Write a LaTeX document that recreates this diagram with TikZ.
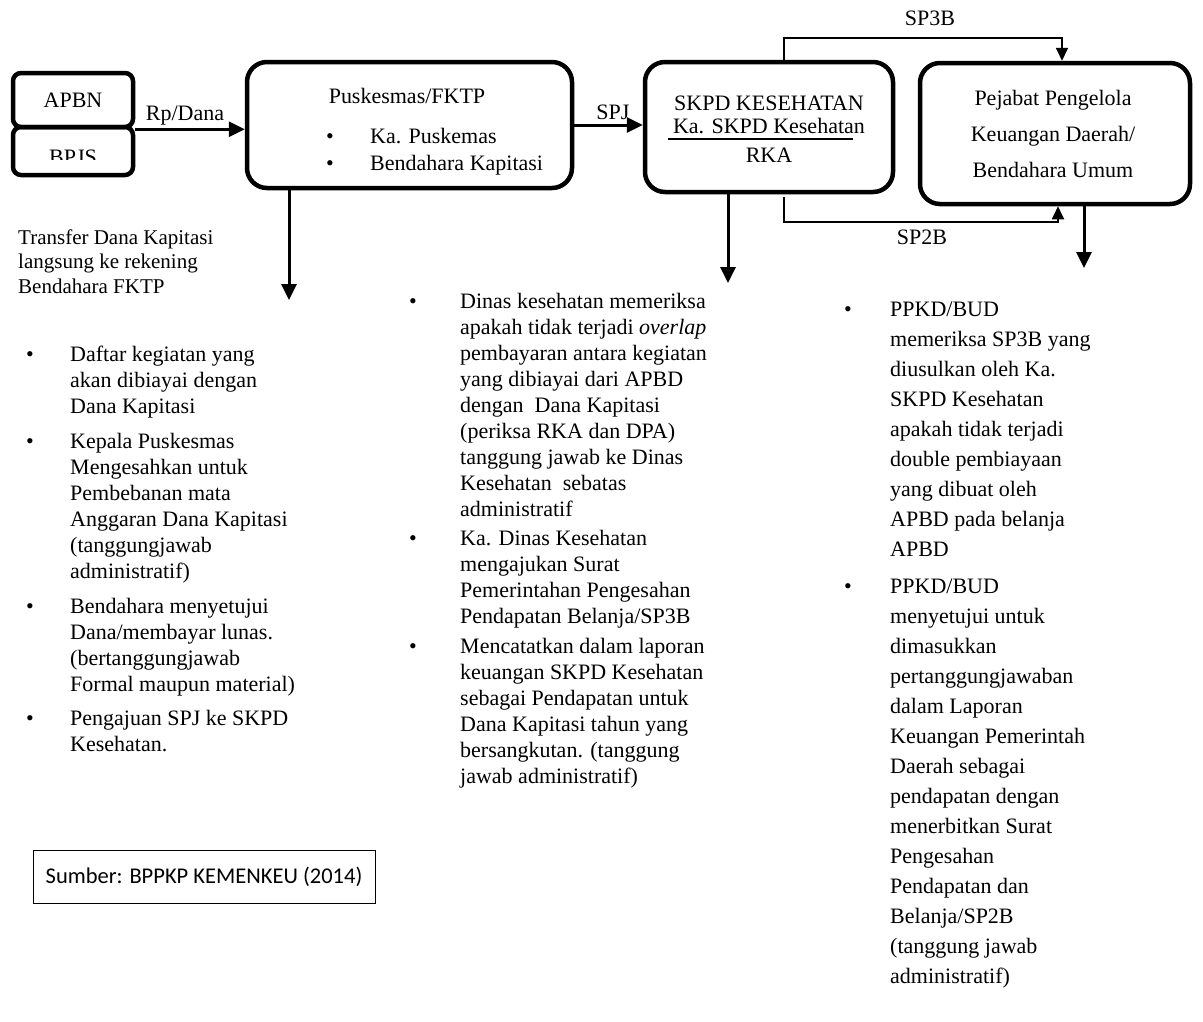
\documentclass[tikz,border=0pt]{standalone}
\usepackage{fontspec}
\setmainfont{Liberation Serif}
\newfontfamily\sumberfont{Carlito}
\usetikzlibrary{arrows.meta}

\begin{document}
\begin{tikzpicture}
[x=1pt,y=-1pt,
  box/.style={draw=black,line width=4.5pt,rounded corners=20pt,inner sep=0pt},
  smallbox/.style={box,rounded corners=8pt,minimum width=120pt},
  arr/.style={line width=3pt,-{Triangle[length=16pt,width=15pt]}},
  thinarr/.style={line width=1.8pt,-{Triangle[length=13pt,width=12pt]}},
  txt/.style={inner sep=0pt,font=\fontsize{22}{26}\selectfont},
  lbl/.style={txt,anchor=base}]

\useasboundingbox (0,0) rectangle (1203,1021);

% sources
\node[smallbox,minimum height=54pt,font=\fontsize{22}{26}\selectfont] (apbn) at (73,100) {APBN};
\node[smallbox,minimum height=48pt] (bpjs) at (73,151) {};
\begin{scope}
  \clip (15,129) rectangle (131,159);
  \node[lbl] (bpjstext) at (73,164) {BPJS};
\end{scope}

% main boxes
\node[box,minimum width=325pt,minimum height=126pt] (puskesmas) at (409.5,125) {};
\node[box,minimum width=248pt,minimum height=130pt] (skpd) at (769,127) {};
\node[box,minimum width=270pt,minimum height=141pt] (ppkd) at (1055,133.5) {};

\node[lbl] (puskesmastitle) at (407,103) {Puskesmas/FKTP};
\node[txt,anchor=base west] (puskesmaslist) at (326,143) {\begin{tabular}[t]{@{}p{44pt}@{}l@{}}
\textbullet & Ka. Puskemas\\[1pt]
\textbullet & Bendahara Kapitasi
\end{tabular}};

\node[lbl] (skpdtitle) at (769,110) {SKPD KESEHATAN};
\node[lbl] (skpdkepala) at (769,133) {Ka. SKPD Kesehatan};
\node[lbl] (rka) at (769,162) {RKA};
\draw[line width=1.5pt] (668,139) -- (853,139);

\node[lbl] (pejabat) at (1053,105) {Pejabat Pengelola};
\node[lbl] (keuangan) at (1053,141) {Keuangan Daerah/};
\node[lbl] (bendahara) at (1053,177) {Bendahara Umum};

% flows
\draw[arr] (apbn.south east) -- (apbn.south east -| puskesmas.west);
\node[lbl] (rpdana) at (185,120) {Rp/Dana};
\draw[arr] (puskesmas.east) -- (puskesmas.east -| skpd.west);
\node[lbl] (spj) at (613,119) {SPJ};

\coordinate (sp3bl) at (784,38);
\coordinate (sp3br) at (1062,38);
\draw[thinarr] (skpd.north -| sp3bl) -- (sp3bl) -- (sp3br) -- (ppkd.north -| sp3br);
\node[lbl] (sp3b) at (930,25) {SP3B};

\coordinate (sp2bl) at (784,222);
\coordinate (sp2br) at (1058,222);
\draw[thinarr] (784,197) -- (sp2bl) -- (sp2br) -- (ppkd.south -| sp2br);
\node[lbl] (sp2b) at (922,244) {SP2B};

\coordinate (puskesmasdown) at (289,300);
\coordinate (skpddown) at (728,283);
\coordinate (ppkddown) at (1084,268);
\draw[arr] (puskesmas.south -| puskesmasdown) -- (puskesmasdown);
\draw[arr] (skpd.south -| skpddown) -- (skpddown);
\draw[arr] (ppkd.south -| ppkddown) -- (ppkddown);

% notes
\node[txt,anchor=base west,align=left,font=\fontsize{21}{24.5}\selectfont] (transfer) at (18,293)
  {Transfer Dana Kapitasi\\ langsung ke rekening\\ Bendahara FKTP};

\node[txt,anchor=base west] (kegiatan) at (26,361) {\begin{tabular}[t]{@{}p{44pt}@{}l@{}}
\textbullet & Daftar kegiatan yang\\
 & akan dibiayai dengan\\
 & Dana Kapitasi\\[9pt]
\textbullet & Kepala Puskesmas\\
 & Mengesahkan untuk\\
 & Pembebanan mata\\
 & Anggaran Dana Kapitasi\\
 & (tanggungjawab\\
 & administratif)\\[9pt]
\textbullet & Bendahara menyetujui\\
 & Dana/membayar lunas.\\
 & (bertanggungjawab\\
 & Formal maupun material)\\[8pt]
\textbullet & Pengajuan SPJ ke SKPD\\
 & Kesehatan.
\end{tabular}};

\node[txt,anchor=base west] (dinas) at (409,308) {\begin{tabular}[t]{@{}p{51pt}@{}l@{}}
\textbullet & Dinas kesehatan memeriksa\\
 & apakah tidak terjadi \textit{overlap}\\
 & pembayaran antara kegiatan\\
 & yang dibiayai dari APBD\\
 & dengan \ Dana Kapitasi\\
 & (periksa RKA dan DPA)\\
 & tanggung jawab ke Dinas\\
 & Kesehatan \ sebatas\\
 & administratif\\[3pt]
\textbullet & Ka. Dinas Kesehatan\\
 & mengajukan Surat\\
 & Pemerintahan Pengesahan\\
 & Pendapatan Belanja/SP3B\\[4pt]
\textbullet & Mencatatkan dalam laporan\\
 & keuangan SKPD Kesehatan\\
 & sebagai Pendapatan untuk\\
 & Dana Kapitasi tahun yang\\
 & bersangkutan. (tanggung\\
 & jawab administratif)
\end{tabular}};

\node[txt,anchor=base west,font=\fontsize{22}{30}\selectfont] (bud) at (844,316) {\begin{tabular}[t]{@{}p{46pt}@{}l@{}}
\textbullet & PPKD/BUD\\
 & memeriksa SP3B yang\\
 & diusulkan oleh Ka.\\
 & SKPD Kesehatan\\
 & apakah tidak terjadi\\
 & double pembiayaan\\
 & yang dibuat oleh\\
 & APBD pada belanja\\
 & APBD\\[7pt]
\textbullet & PPKD/BUD\\
 & menyetujui untuk\\
 & dimasukkan\\
 & pertanggungjawaban\\
 & dalam Laporan\\
 & Keuangan Pemerintah\\
 & Daerah sebagai\\
 & pendapatan dengan\\
 & menerbitkan Surat\\
 & Pengesahan\\
 & Pendapatan dan\\
 & Belanja/SP2B\\
 & (tanggung jawab\\
 & administratif)
\end{tabular}};

% source
\node[draw=black,line width=1pt,minimum width=342pt,minimum height=53pt,font=\sumberfont\fontsize{22.5}{26}\selectfont] (sumber) at (204,876.5) {Sumber: BPPKP KEMENKEU (2014)};
\end{tikzpicture}
\end{document}
